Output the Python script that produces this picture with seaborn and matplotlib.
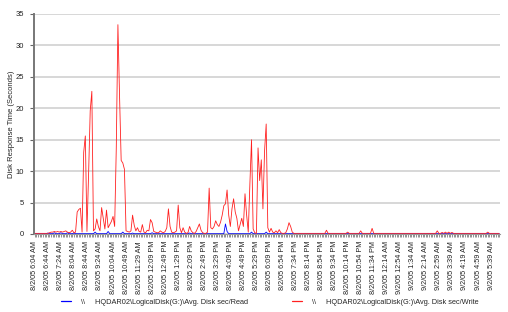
import matplotlib
matplotlib.use("Agg")
import matplotlib.pyplot as plt
import seaborn as sns
import pandas as pd
import numpy as np
from matplotlib.lines import Line2D

# ---- data -------------------------------------------------------------
tick_labels = [
    "8/2/05 6:04 AM", "8/2/05 6:44 AM", "8/2/05 7:24 AM", "8/2/05 8:04 AM",
    "8/2/05 8:44 AM", "8/2/05 9:24 AM", "8/2/05 10:04 AM", "8/2/05 10:49 AM",
    "8/2/05 11:29 AM", "8/2/05 12:09 PM", "8/2/05 12:49 PM", "8/2/05 1:29 PM",
    "8/2/05 2:09 PM", "8/2/05 2:49 PM", "8/2/05 3:29 PM", "8/2/05 4:09 PM",
    "8/2/05 4:49 PM", "8/2/05 5:29 PM", "8/2/05 6:09 PM", "8/2/05 6:54 PM",
    "8/2/05 7:34 PM", "8/2/05 8:14 PM", "8/2/05 8:54 PM", "8/2/05 9:34 PM",
    "8/2/05 10:14 PM", "8/2/05 10:54 PM", "8/2/05 11:34 PM", "9/2/05 12:14 AM",
    "9/2/05 12:54 AM", "9/2/05 1:34 AM", "9/2/05 2:14 AM", "9/2/05 2:59 AM",
    "9/2/05 3:39 AM", "9/2/05 4:19 AM", "9/2/05 4:59 AM", "9/2/05 5:39 AM",
]

write_early = [0.1, 0.1, 0.1, 0.1, 0.1, 0.1, 0.1, 0.1, 0.1, 0.2,
               0.3, 0.3, 0.4, 0.3, 0.4, 0.3, 0.4, 0.3, 0.4, 0.5,
               0.3, 0.2, 0.3, 0.6, 0.2, 0.3]
write_burst1 = [3.5, 3.9, 4.1, 0.3, 13.0, 15.6, 0.4, 9.5, 19.6, 22.7,
                0.5, 0.8, 2.4, 1.2, 0.5, 4.2, 2.5, 0.8, 3.8, 1.0,
                1.5, 2.0, 2.8, 1.2, 13.7, 33.3, 22.0, 11.7, 11.3, 10.3,
                0.5, 0.4, 0.3, 0.5, 3.0, 1.4, 0.5, 1.0, 0.4, 0.3,
                1.5, 0.3, 0.2, 0.6, 0.5, 2.3, 1.8, 0.4, 0.3, 0.2,
                0.2, 0.5, 0.3, 0.2, 0.4, 1.0, 4.0, 1.2, 0.3, 0.2,
                0.3, 0.5, 4.6, 1.0, 0.2, 1.0, 0.3, 0.1, 0.2, 1.2,
                0.5, 0.2, 0.1, 0.4, 1.0, 1.6, 0.6, 0.2, 0.1, 0.1,
                0.3]
write_burst2 = [7.3, 1.0, 0.8, 1.2, 2.1, 1.5, 1.2, 1.9, 3.0, 4.5,
                4.8, 7.0, 3.0, 1.2, 4.0, 5.6, 3.5, 2.5, 0.5, 1.5,
                2.5, 1.2, 6.4, 3.0, 0.3, 8.0, 15.0, 0.8, 0.2, 0.1,
                13.7, 8.5, 11.8, 4.0, 13.2, 17.5, 1.0, 0.3, 0.9, 0.3,
                0.2, 0.5, 0.2, 0.7, 0.2, 0.1, 0.1, 0.2, 0.8, 1.8,
                1.2, 0.3]
write_late = [0.1] * 127
for i, v in [(20, 0.6), (33, 0.3), (41, 0.5), (48, 0.9), (88, 0.5),
             (91, 0.25), (93, 0.3), (95, 0.3), (97, 0.25), (119, 0.3)]:
    write_late[i] = v
write_vals = write_early + write_burst1 + write_burst2 + write_late

read_vals = [0.05] * len(write_vals)
for i, v in [(8, 0.15), (12, 0.2), (16, 0.2), (20, 0.2), (24, 0.15),
             (37, 0.3), (45, 0.4), (54, 0.3), (60, 0.15), (72, 0.2),
             (95, 0.15), (117, 1.6), (118, 0.4), (133, 0.3), (142, 0.3)]:
    read_vals[i] = v

read_label = "\\\\     HQDAR02\\LogicalDisk(G:)\\Avg. Disk sec/Read"
write_label = "\\\\     HQDAR02\\LogicalDisk(G:)\\Avg. Disk sec/Write"

n = len(write_vals)
idx = list(range(n))
df = pd.DataFrame({
    "idx": idx * 2,
    "value": read_vals + write_vals,
    "series": [read_label] * n + [write_label] * n,
})

# ---- plot -------------------------------------------------------------
sns.set_style("white")
plt.rcParams["font.family"] = ["Liberation Sans", "DejaVu Sans"]

fig = plt.figure(figsize=(5.08, 3.12), dpi=100)
ax = fig.add_axes([34 / 508, 78 / 312, 466 / 508, 220 / 312])

sns.lineplot(data=df, x="idx", y="value", hue="series",
             palette={read_label: "#0000FF", write_label: "#FF2020"},
             linewidth=0.6, ax=ax, legend=False)

ax.set_xlim(-0.5, n - 0.5)
ax.set_ylim(0, 35)
ax.set_yticks(range(0, 36, 5))
ax.yaxis.grid(True, color="#d4d4d4", linewidth=1.3)
ax.set_axisbelow(True)

major = list(range(0, 8 * len(tick_labels), 8))
ax.set_xticks(major)
ax.set_xticklabels(tick_labels, rotation=90, fontsize=5.2, color="#222222")
ax.set_xticks(idx, minor=True)
ax.tick_params(axis="x", which="both", direction="out", length=2,
               width=0.5, color="#666666", pad=3, bottom=True)
ax.tick_params(axis="y", direction="out", length=3, width=0.8,
               color="#666666", labelsize=5.5, labelcolor="#222222", pad=4,
               left=True)

for s in ["top", "right"]:
    ax.spines[s].set_visible(False)
ax.spines["left"].set_color("#777777")
ax.spines["left"].set_linewidth(1.4)
ax.spines["bottom"].set_color("#999999")
ax.spines["bottom"].set_linewidth(0.8)

ax.set_xlabel("")
ax.set_ylabel("Disk Response Time (Seconds)", fontsize=5.5, color="#222222")
ax.yaxis.set_label_coords(-0.04, 0.5)

handles = [Line2D([], [], color="#0000FF", linewidth=0.9),
           Line2D([], [], color="#FF2020", linewidth=0.9)]
fig.legend(handles, [read_label, write_label], loc="center left",
           bbox_to_anchor=(61 / 508, 1 - 302 / 312), ncol=2, frameon=False,
           fontsize=5.3, handlelength=1.4, handletextpad=1.3,
           columnspacing=6.0, borderaxespad=0, borderpad=0)

fig.savefig("out.png", dpi=100)
